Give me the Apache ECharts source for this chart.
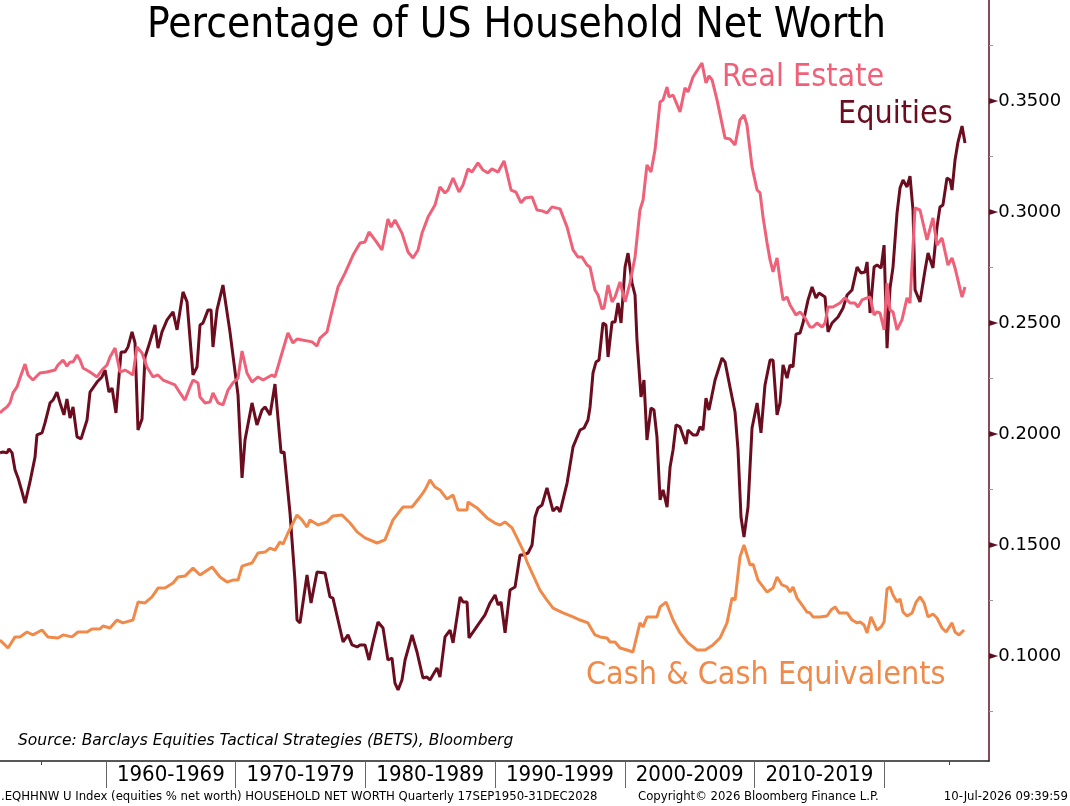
<!DOCTYPE html>
<html>
<head>
<meta charset="utf-8">
<title>Percentage of US Household Net Worth</title>
<script src="https://cdn.jsdelivr.net/npm/echarts@6/dist/echarts.min.js"></script>
<style>
  html, body { margin: 0; padding: 0; background: #fff; }
  #chart { width: 1070px; height: 806px; }
</style>
</head>
<body>
<div id="chart"></div>
<script>
// Real Estate share of household net worth
var reYears = [1951.83,1952.06,1952.37,1952.60,1952.83,1953.14,1953.37,1953.76,1953.99,1954.37,1954.91,1955.45,1956.07,1956.30,1956.69,1956.99,1957.23,1957.46,1957.77,1958.00,1958.23,1958.77,1959.31,1959.69,
  1960.08,1960.31,1960.70,1961.08,1961.47,1961.85,1962.08,1962.39,1962.78,1963.16,1963.63,1964.01,1964.40,1964.94,1965.32,1965.71,1966.09,1966.48,1966.71,1967.10,1967.25,1967.64,1968.02,1968.25,1968.64,1969.02,1969.41,1969.79,
  1970.18,1970.49,1970.87,1971.26,1971.72,1972.11,1972.80,1973.03,1973.57,1974.03,1974.42,1974.73,1975.89,1976.27,1976.50,1977.04,1977.50,1977.89,1978.43,1979.05,1979.59,1979.97,
  1980.28,1980.74,1981.28,1981.74,1981.98,1982.28,1982.82,1983.29,1983.67,1984.06,1984.37,1984.83,1985.37,1985.75,1986.14,1986.37,1986.76,1987.22,1987.53,1987.91,1988.22,1988.68,1989.07,1989.45,1989.76,
  1990.23,1990.69,1990.92,1991.23,1991.61,1992.00,1992.31,1992.85,1993.23,1993.62,1994.00,1994.39,1995.01,1995.55,1996.01,1996.39,1996.70,1997.09,1997.32,1997.70,1997.94,1998.24,1998.40,1998.71,1999.02,1999.25,1999.63,
  2000.02,2000.40,2000.79,2001.17,2001.41,2001.71,2002.02,2002.33,2002.72,2002.95,2003.26,2003.41,2003.72,2004.26,2004.64,2004.87,2005.26,2005.95,2006.26,2006.49,2006.73,2007.11,2007.73,2008.11,2008.50,2008.88,2009.19,2009.42,2009.81,
  2010.20,2010.43,2010.66,2010.97,2011.20,2011.43,2011.74,2011.97,2012.20,2012.51,2012.74,2012.97,2013.20,2013.51,2013.90,2014.28,2014.51,2014.82,2015.21,2015.44,2015.67,2016.05,2016.59,2016.98,2017.37,2017.75,2017.98,2018.29,2018.68,2018.91,2019.22,2019.45,2019.68,2019.99,
  2020.22,2020.45,2020.68,2020.99,2021.37,2021.76,2021.99,2022.38,2022.76,2023.30,2023.76,2024.07,2024.46,2024.92,2025.23,2025.46,2026.00,2026.23];
var reValues = [0.2095,0.2108,0.2122,0.2140,0.2185,0.2212,0.2252,0.2315,0.2266,0.2243,0.2275,0.2279,0.2288,0.2311,0.2333,0.2306,0.2324,0.2324,0.2356,0.2333,0.2297,0.2279,0.2257,0.2288,
  0.2311,0.2347,0.2387,0.2279,0.2288,0.2275,0.2266,0.2392,0.2365,0.2302,0.2257,0.2266,0.2243,0.2230,0.2221,0.2185,0.2153,0.2212,0.2243,0.2230,0.2167,0.2140,0.2144,0.2185,0.2140,0.2131,0.2198,0.2230,
  0.2252,0.2374,0.2275,0.2234,0.2257,0.2243,0.2266,0.2257,0.2365,0.2455,0.2410,0.2428,0.2415,0.2396,0.2432,0.2460,0.2572,0.2662,0.2725,0.2806,0.2860,0.2865,
  0.2910,0.2874,0.2829,0.2968,0.2932,0.2964,0.2905,0.2820,0.2793,0.2829,0.2905,0.2977,0.3032,0.3113,0.3086,0.3099,0.3153,0.3090,0.3122,0.3194,0.3180,0.3221,0.3189,0.3176,0.3194,
  0.3180,0.3230,0.3176,0.3099,0.3090,0.3041,0.3063,0.3068,0.3009,0.3005,0.2996,0.3023,0.3014,0.2932,0.2829,0.2797,0.2797,0.2761,0.2752,0.2649,0.2626,0.2563,0.2568,0.2671,0.2595,0.2617,0.2685,
  0.2595,0.2680,0.2797,0.3009,0.3054,0.3212,0.3180,0.3279,0.3496,0.3505,0.3563,0.3518,0.3527,0.3451,0.3559,0.3541,0.3608,0.3671,0.3581,0.3613,0.3595,0.3505,0.3333,0.3329,0.3302,0.3415,0.3437,0.3392,0.3203,
  0.3099,0.3086,0.2977,0.2860,0.2784,0.2730,0.2793,0.2694,0.2604,0.2617,0.2581,0.2559,0.2536,0.2550,0.2523,0.2482,0.2482,0.2500,0.2482,0.2500,0.2572,0.2572,0.2590,0.2613,0.2590,0.2590,0.2572,0.2604,0.2613,0.2617,0.2536,0.2550,0.2545,0.2469,
  0.2680,0.2559,0.2550,0.2469,0.2514,0.2613,0.2590,0.3018,0.3009,0.2874,0.2973,0.2851,0.2883,0.2761,0.2793,0.2748,0.2617,0.2662];

// Equities share
var eqYears = [1951.83,1952.06,1952.37,1952.52,1952.76,1952.99,1953.22,1953.53,1953.76,1954.14,1954.53,1954.68,1955.07,1955.30,1955.69,1955.92,1956.22,1956.46,1956.76,1956.99,1957.23,1957.46,1957.77,1958.08,1958.54,1958.77,1959.31,1959.69,1959.93,
  1960.23,1960.47,1960.77,1961.16,1961.47,1961.70,1962.01,1962.24,1962.47,1962.78,1963.01,1963.24,1963.78,1964.01,1964.32,1964.71,1965.17,1965.48,1965.94,1966.25,1966.71,1967.02,1967.25,1967.48,1967.87,1968.10,1968.25,1968.56,1968.71,1969.02,1969.56,
  1970.18,1970.49,1970.72,1971.26,1971.64,1972.03,1972.26,1972.65,1973.03,1973.50,1973.73,1974.19,1974.57,1974.73,1974.96,1975.50,1975.81,1976.27,1976.89,1977.27,1977.50,1977.89,1978.28,1978.66,1978.97,1979.36,1979.59,1979.97,
  1980.28,1980.59,1980.97,1981.36,1981.74,1982.05,1982.28,1982.52,1982.82,1983.06,1983.60,1983.98,1984.44,1984.75,1984.98,1985.52,1985.75,1986.14,1986.53,1986.76,1987.30,1987.53,1987.84,1987.99,1988.30,1988.68,1989.22,1989.61,
  1990.00,1990.23,1990.46,1990.77,1991.15,1991.54,1991.92,1992.15,1992.54,1992.85,1993.08,1993.31,1993.62,1994.00,1994.47,1994.78,1995.01,1995.55,1996.01,1996.55,1996.86,1997.16,1997.32,1997.55,1997.78,1998.01,1998.32,1998.55,1998.71,1999.02,1999.25,1999.48,1999.71,
  2000.02,2000.25,2000.56,2000.79,2000.94,2001.25,2001.48,2001.71,2002.02,2002.25,2002.48,2002.72,2002.95,2003.26,2003.49,2003.72,2003.95,2004.26,2004.72,2004.87,2005.26,2005.57,2005.80,2006.03,2006.26,2006.49,2006.96,2007.50,2007.73,2008.11,2008.50,2008.73,2008.96,2009.19,2009.50,2009.81,
  2010.20,2010.50,2010.81,2011.20,2011.43,2011.74,2011.97,2012.20,2012.51,2012.74,2012.97,2013.20,2013.51,2013.74,2014.13,2014.44,2014.74,2014.98,2015.44,2015.67,2015.98,2016.44,2016.83,2017.14,2017.52,2017.91,2018.21,2018.52,2018.68,2018.91,2019.22,2019.45,2019.76,2019.99,
  2020.22,2020.45,2020.68,2020.99,2021.22,2021.45,2021.76,2021.99,2022.22,2022.38,2022.76,2023.15,2023.38,2023.76,2024.07,2024.30,2024.53,2024.84,2025.08,2025.23,2025.46,2025.69,2026.00,2026.23];
var eqValues = [0.1915,0.1919,0.1915,0.1933,0.1915,0.1838,0.1802,0.1739,0.1689,0.1784,0.1896,0.1996,0.2005,0.2050,0.2140,0.2153,0.2189,0.2140,0.2086,0.2158,0.2072,0.2122,0.1987,0.1978,0.2063,0.2189,0.2234,0.2257,0.2288,
  0.2189,0.2207,0.2095,0.2369,0.2369,0.2392,0.2460,0.2410,0.2018,0.2068,0.2347,0.2387,0.2491,0.2387,0.2460,0.2514,0.2550,0.2469,0.2640,0.2595,0.2266,0.2302,0.2491,0.2500,0.2559,0.2559,0.2392,0.2559,0.2559,0.2671,0.2460,
  0.2176,0.1802,0.1973,0.2140,0.2041,0.2108,0.2122,0.2086,0.2225,0.1915,0.1919,0.1644,0.1342,0.1162,0.1149,0.1365,0.1239,0.1378,0.1374,0.1266,0.1261,0.1162,0.1063,0.1095,0.1050,0.1041,0.1050,0.1050,
  0.0982,0.1063,0.1153,0.1126,0.0982,0.0991,0.0878,0.0847,0.0892,0.0982,0.1095,0.1018,0.0901,0.0905,0.0892,0.0946,0.0905,0.1086,0.1117,0.1059,0.1266,0.1243,0.1243,0.1081,0.1108,0.1140,0.1185,0.1239,
  0.1275,0.1230,0.1243,0.1104,0.1297,0.1311,0.1455,0.1455,0.1464,0.1500,0.1626,0.1667,0.1680,0.1757,0.1653,0.1671,0.1649,0.1779,0.1942,0.2018,0.2027,0.2063,0.2122,0.2275,0.2324,0.2333,0.2500,0.2491,0.2347,0.2505,0.2505,0.2590,0.2500,
  0.2752,0.2815,0.2680,0.2626,0.2424,0.2167,0.2243,0.1973,0.2117,0.2108,0.1987,0.1703,0.1748,0.1671,0.1851,0.1928,0.2041,0.2032,0.1955,0.2018,0.1996,0.1996,0.2032,0.2018,0.2162,0.2108,0.2243,0.2342,0.2324,0.2212,0.2099,0.1928,0.1626,0.1536,0.1671,0.2027,
  0.2140,0.2005,0.2221,0.2333,0.2333,0.2086,0.2140,0.2311,0.2252,0.2311,0.2302,0.2450,0.2455,0.2500,0.2604,0.2662,0.2613,0.2635,0.2617,0.2460,0.2500,0.2527,0.2568,0.2626,0.2649,0.2752,0.2725,0.2730,0.2775,0.2545,0.2752,0.2761,0.2748,0.2851,
  0.2387,0.2658,0.2752,0.2996,0.3108,0.3144,0.3113,0.3162,0.3009,0.2649,0.2595,0.2739,0.2815,0.2748,0.2932,0.3023,0.3032,0.3153,0.3144,0.3099,0.3234,0.3315,0.3387,0.3311];

// Cash & cash equivalents share
var cashYears = [1951.83,1952.45,1952.99,1953.37,1953.91,1954.37,1955.07,1955.53,1956.30,1956.69,1957.38,1957.84,1958.54,1958.92,1959.54,1959.77,
  1960.31,1960.85,1961.31,1962.08,1962.47,1963.01,1963.55,1964.01,1964.55,1965.17,1965.55,1966.09,1966.71,1967.25,1968.18,1968.79,1969.33,1969.79,
  1970.18,1970.49,1971.26,1971.72,1972.26,1972.65,1973.03,1973.42,1973.65,1974.03,1974.73,1975.11,1975.50,1975.73,1976.35,1977.04,1977.50,1978.20,1978.82,1979.36,1979.97,
  1980.90,1981.51,1982.13,1982.90,1983.60,1984.21,1984.60,1984.98,1985.37,1985.75,1986.29,1986.76,1987.14,1987.84,1987.91,1988.61,1989.38,1989.99,
  1990.38,1990.77,1991.31,1991.69,1992.15,1992.46,1992.92,1993.46,1994.00,1994.47,1995.24,1996.01,1996.55,1997.16,1997.70,1998.09,1998.63,1998.86,1999.25,1999.63,
  2000.17,2000.63,2001.17,2001.41,2001.71,2002.48,2002.72,2003.18,2003.72,2004.26,2004.87,2005.57,2006.19,2006.80,2007.34,2007.88,2008.27,2008.50,2008.88,2009.19,2009.66,2009.89,
  2010.27,2010.97,2011.43,2011.74,2012.12,2012.51,2012.74,2012.97,2013.28,2013.66,2014.05,2014.28,2014.51,2015.05,2015.59,2015.90,2016.21,2016.52,2017.14,2017.52,2017.91,2018.14,2018.45,2018.68,2018.98,2019.45,2019.76,2019.99,
  2020.22,2020.45,2020.68,2020.99,2021.22,2021.45,2021.76,2022.15,2022.46,2022.76,2023.07,2023.38,2023.76,2024.07,2024.46,2024.77,2025.23,2025.46,2025.77,2026.16];
var cashValues = [0.1072,0.1036,0.1086,0.1086,0.1108,0.1095,0.1117,0.1086,0.1081,0.1095,0.1086,0.1108,0.1108,0.1122,0.1122,0.1135,
  0.1126,0.1162,0.1149,0.1162,0.1243,0.1239,0.1266,0.1306,0.1306,0.1329,0.1356,0.1360,0.1396,0.1365,0.1401,0.1356,0.1333,0.1342,
  0.1342,0.1405,0.1419,0.1464,0.1468,0.1486,0.1477,0.1514,0.1504,0.1554,0.1635,0.1613,0.1581,0.1613,0.1590,0.1604,0.1631,0.1635,0.1599,0.1559,0.1532,
  0.1509,0.1523,0.1613,0.1671,0.1671,0.1716,0.1748,0.1793,0.1761,0.1748,0.1707,0.1725,0.1658,0.1658,0.1694,0.1667,0.1622,0.1599,
  0.1590,0.1604,0.1577,0.1532,0.1477,0.1424,0.1365,0.1297,0.1252,0.1216,0.1194,0.1176,0.1162,0.1149,0.1095,0.1086,0.1081,0.1063,0.1063,0.1036,
  0.1027,0.1018,0.1149,0.1131,0.1176,0.1176,0.1221,0.1243,0.1162,0.1104,0.1059,0.1027,0.1027,0.1050,0.1081,0.1149,0.1261,0.1252,0.1446,0.1500,0.1410,0.1414,
  0.1342,0.1288,0.1306,0.1356,0.1320,0.1311,0.1288,0.1311,0.1261,0.1230,0.1198,0.1194,0.1176,0.1176,0.1180,0.1207,0.1221,0.1194,0.1194,0.1162,0.1149,0.1153,0.1140,0.1104,0.1176,0.1117,0.1131,0.1153,
  0.1302,0.1311,0.1275,0.1243,0.1257,0.1198,0.1180,0.1194,0.1243,0.1266,0.1239,0.1176,0.1189,0.1171,0.1126,0.1108,0.1149,0.1108,0.1095,0.1117];

// axis marks
var decadeStarts = [1960, 1970, 1980, 1990, 2000, 2010, 2020];
var decadeMids = [1965, 1975, 1985, 1995, 2005, 2015];
var decadeNames = ['1960-1969', '1970-1979', '1980-1989', '1990-1999', '2000-2009', '2010-2019'];
var yTicks = [0.10, 0.15, 0.20, 0.25, 0.30, 0.35];
var yMinorTicks = [0.075, 0.125, 0.175, 0.225, 0.275, 0.325, 0.375];

var FONT = "'DejaVu Sans Condensed', 'DejaVu Sans', sans-serif";
var WIDE = "'DejaVu Sans', sans-serif";
var C_RE = '#ef6179';
var C_EQ = '#6b0d1f';
var C_CASH = '#f08a4b';

function pairs(xs, ys) {
    return xs.map(function (x, i) { return [x, ys[i]]; });
}

var chart = echarts.init(document.getElementById('chart'), null, {renderer: 'canvas'});

var option = {
    backgroundColor: '#fff',
    animation: false,
    title: {
        text: 'Percentage of US Household Net Worth',
        left: 142,
        top: 0,
        textStyle: {fontFamily: FONT, fontSize: 42, fontWeight: 'normal', color: '#000'}
    },
    grid: {left: 0, right: 81, top: 0, bottom: 45, containLabel: false},
    xAxis: [
        {
            type: 'value',
            min: 1951.83,
            max: 2028.08,
            position: 'bottom',
            axisLine: {show: true, lineStyle: {color: '#222', width: 1.5}},
            axisTick: {show: true, customValues: decadeStarts, length: 27, lineStyle: {color: '#666', width: 1}},
            axisLabel: {
                show: true,
                customValues: decadeMids,
                margin: 3,
                fontFamily: FONT,
                fontSize: 22,
                color: '#000',
                formatter: function (v) {
                    var i = decadeMids.indexOf(Math.round(v));
                    return i >= 0 ? decadeNames[i] : '';
                }
            },
            splitLine: {show: false}
        },
        {
            // short year ticks at 1955 and 2025
            type: 'value',
            min: 1951.83,
            max: 2028.08,
            position: 'bottom',
            axisLine: {show: false},
            axisTick: {show: true, customValues: [1955, 2025], length: 4, lineStyle: {color: '#444'}},
            axisLabel: {show: false},
            splitLine: {show: false}
        }
    ],
    yAxis: [
        {
            type: 'value',
            position: 'right',
            min: 0.0527,
            max: 0.3955,
            axisLine: {show: true, lineStyle: {color: '#5a1020', width: 1.5}},
            axisTick: {show: false},
            axisLabel: {
                show: true,
                customValues: yTicks,
                margin: 0,
                formatter: function (v) { return '{m|►}' + v.toFixed(4); },
                fontFamily: WIDE,
                fontSize: 18,
                color: '#000',
                rich: {m: {fontSize: 12, color: '#5a1020', fontFamily: 'DejaVu Sans'}}
            },
            splitLine: {show: false}
        },
        {
            type: 'value',
            position: 'right',
            min: 0.0527,
            max: 0.3955,
            axisLine: {show: false},
            axisTick: {show: true, customValues: yMinorTicks, length: 4, lineStyle: {color: '#999'}},
            axisLabel: {show: false},
            splitLine: {show: false}
        }
    ],
    series: [
        {
            name: 'Equities',
            type: 'line',
            showSymbol: false,
            data: pairs(eqYears, eqValues),
            lineStyle: {color: C_EQ, width: 3},
            itemStyle: {color: C_EQ},
            z: 2
        },
        {
            name: 'Cash & Cash Equivalents',
            type: 'line',
            showSymbol: false,
            data: pairs(cashYears, cashValues),
            lineStyle: {color: C_CASH, width: 3},
            itemStyle: {color: C_CASH},
            z: 3
        },
        {
            name: 'Real Estate',
            type: 'line',
            showSymbol: false,
            data: pairs(reYears, reValues),
            lineStyle: {color: C_RE, width: 3},
            itemStyle: {color: C_RE},
            z: 4
        }
    ],
    graphic: [
        {type: 'text', left: 722, top: 62, style: {text: 'Real Estate', fill: C_RE, font: '32px ' + FONT}},
        {type: 'text', left: 838, top: 99, style: {text: 'Equities', fill: C_EQ, font: '32px ' + FONT}},
        {type: 'text', left: 586, top: 660, style: {text: 'Cash & Cash Equivalents', fill: C_CASH, font: '32px ' + FONT}},
        {type: 'text', left: 18, top: 733, style: {text: 'Source: Barclays Equities Tactical Strategies (BETS), Bloomberg', fill: '#000', font: 'italic 15.5px ' + WIDE}},
        {type: 'text', left: 1, top: 790, style: {text: '.EQHHNW U Index (equities % net worth) HOUSEHOLD NET WORTH Quarterly 17SEP1950-31DEC2028', fill: '#000', font: '13px ' + FONT}},
        {type: 'text', left: 638, top: 790, style: {text: 'Copyright\u00a9 2026 Bloomberg Finance L.P.', fill: '#000', font: '13px ' + FONT}},
        {type: 'text', right: 2, top: 790, style: {text: '10-Jul-2026 09:39:59', fill: '#000', font: '13px ' + FONT}}
    ]
};

chart.setOption(option);
</script>
</body>
</html>
